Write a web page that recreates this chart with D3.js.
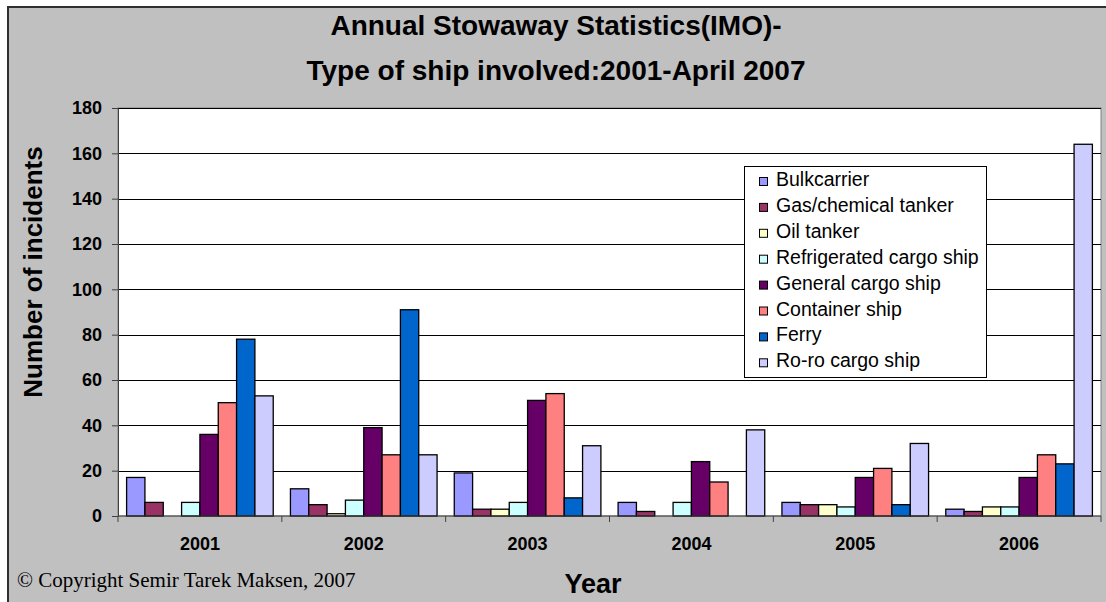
<!DOCTYPE html>
<html><head><meta charset="utf-8">
<script src="https://cdn.jsdelivr.net/npm/d3@7"></script>
<style>html,body{margin:0;padding:0;background:#fff;}svg{display:block;}</style>
</head><body>
<svg id="chart" width="1106" height="602"></svg>
<script>
const years = ["2001","2002","2003","2004","2005","2006"];
const seriesNames = ["Bulkcarrier","Gas/chemical tanker","Oil tanker","Refrigerated cargo ship","General cargo ship","Container ship","Ferry","Ro-ro cargo ship"];
const bulkcarrier = [17, 12, 19, 6, 6, 3];
const gasChemicalTanker = [6, 5, 3, 2, 5, 2];
const oilTanker = [0, 1, 3, 0, 5, 4];
const refrigeratedCargo = [6, 7, 6, 6, 4, 4];
const generalCargo = [36, 39, 51, 24, 17, 17];
const containerShip = [50, 27, 54, 15, 21, 27];
const ferry = [78, 91, 8, 0, 5, 23];
const roroCargo = [53, 27, 31, 38, 32, 164];
const yTicks = [0, 20, 40, 60, 80, 100, 120, 140, 160, 180];
const colors = ["#9999FF","#993366","#FFFFCC","#CCFFFF","#660066","#FF8080","#0066CC","#CCCCFF"];

const seriesValues = [bulkcarrier, gasChemicalTanker, oilTanker, refrigeratedCargo, generalCargo, containerShip, ferry, roroCargo];

const svg = d3.select("#chart");
const FONT = "Liberation Sans, Arial, sans-serif";

// outer chart area
svg.append("rect").attr("x", 8).attr("y", 7).attr("width", 1110).attr("height", 610)
  .attr("fill", "#C0C0C0").attr("stroke", "#303030").attr("stroke-width", 2);

const L = 118, R = 1101, T = 108, B = 516;
const x0 = d3.scaleBand().domain(years).range([L, R]).padding(0);
const gap = x0.bandwidth() * 0.0525;
const x1 = d3.scaleBand().domain(seriesNames).range([gap, x0.bandwidth() - gap]).padding(0);
const y = d3.scaleLinear().domain([0, 180]).range([B, T]);

// plot area
svg.append("rect").attr("x", L).attr("y", T).attr("width", R - L).attr("height", B - T)
  .attr("fill", "#fff").attr("stroke", "#808080").attr("stroke-width", 1);

// gridlines
svg.append("g").selectAll("line").data(yTicks.filter(d => d > 0)).join("line")
  .attr("x1", L).attr("x2", R).attr("y1", d => Math.round(y(d)) + 0.5).attr("y2", d => Math.round(y(d)) + 0.5)
  .attr("stroke", "#000").attr("stroke-width", 1);

// bars
const data = [];
years.forEach((yr, i) => seriesNames.forEach((s, j) => {
  data.push({year: yr, series: s, value: seriesValues[j][i], color: colors[j]});
}));
svg.append("g").selectAll("rect").data(data.filter(d => d.value > 0)).join("rect")
  .attr("x", d => x0(d.year) + x1(d.series))
  .attr("y", d => y(d.value))
  .attr("width", x1.bandwidth())
  .attr("height", d => y(0) - y(d.value))
  .attr("fill", d => d.color)
  .attr("stroke", "#000").attr("stroke-width", 1.3);

// y axis
const yAxis = d3.axisLeft(y).tickValues(yTicks).tickSize(6).tickPadding(10).tickSizeOuter(0);
const gy = svg.append("g").attr("transform", `translate(${L},0)`).call(yAxis);
gy.select(".domain").attr("stroke", "#404040");
gy.selectAll(".tick line").attr("stroke", "#404040");
gy.selectAll("text").attr("font-family", FONT).attr("font-size", 18).attr("font-weight", "bold").attr("fill", "#000");

// x axis
const xTickPos = d3.scaleLinear().domain([0, years.length]).range([L, R]);
const gx = svg.append("g");
gx.append("line").attr("x1", L).attr("x2", R).attr("y1", B).attr("y2", B).attr("stroke", "#404040");
gx.selectAll("line.t").data(d3.range(years.length + 1)).join("line").attr("class", "t")
  .attr("x1", d => xTickPos(d)).attr("x2", d => xTickPos(d)).attr("y1", B).attr("y2", B + 6).attr("stroke", "#404040");
gx.selectAll("text").data(years).join("text")
  .attr("x", d => x0(d) + x0.bandwidth() / 2).attr("y", 550)
  .attr("text-anchor", "middle").attr("font-family", FONT).attr("font-size", 18).attr("font-weight", "bold")
  .text(d => d);

// titles
const title = svg.append("text").attr("text-anchor", "middle").attr("font-family", FONT)
  .attr("font-size", 28).attr("font-weight", "bold").attr("fill", "#000");
title.append("tspan").attr("x", 556).attr("y", 35).text("Annual Stowaway Statistics(IMO)-");
title.append("tspan").attr("x", 556).attr("y", 80).text("Type of ship involved:2001-April 2007");

svg.append("text").attr("transform", "translate(42,272) rotate(-90)").attr("text-anchor", "middle")
  .attr("font-family", FONT).attr("font-size", 26).attr("font-weight", "bold").text("Number of incidents");

svg.append("text").attr("x", 593).attr("y", 593).attr("text-anchor", "middle")
  .attr("font-family", FONT).attr("font-size", 27).attr("font-weight", "bold").text("Year");

svg.append("text").attr("x", 17).attr("y", 587)
  .attr("font-family", "Liberation Serif, Times New Roman, serif").attr("font-size", 21)
  .text("\u00A9 Copyright Semir Tarek Maksen, 2007");

// legend
const lg = svg.append("g");
lg.append("rect").attr("x", 744.5).attr("y", 166.5).attr("width", 242).attr("height", 211)
  .attr("fill", "#fff").attr("stroke", "#000").attr("stroke-width", 1);
const items = lg.selectAll("g.item").data(seriesNames).join("g").attr("class", "item")
  .attr("transform", (d, i) => `translate(0,${186 + i * 25.9})`);
items.append("rect").attr("x", 759.5).attr("y", -8.5).attr("width", 8).attr("height", 8)
  .attr("fill", (d, i) => colors[i]).attr("stroke", "#000").attr("stroke-width", 1);
items.append("text").attr("x", 776).attr("y", 0).attr("font-family", FONT).attr("font-size", 19.5)
  .text(d => d);
</script>
</body></html>
